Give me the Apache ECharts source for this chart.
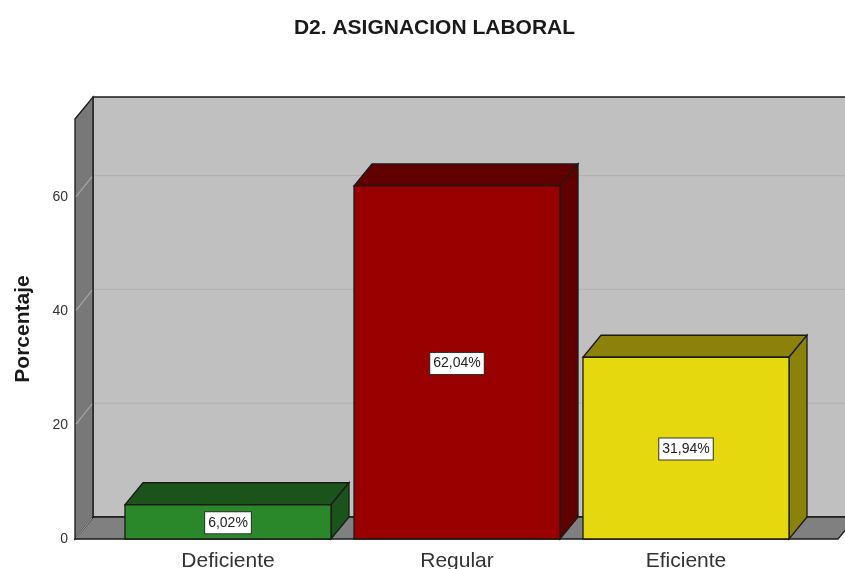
<!DOCTYPE html>
<html><head><meta charset="utf-8">
<style>html,body{margin:0;padding:0;background:#fff}#c{width:845px;height:569px}</style>
<script src="https://cdn.jsdelivr.net/npm/echarts@6/dist/echarts.min.js"></script>
</head><body><div id="c"></div>
<script>
var titleText = 'D2. ASIGNACION LABORAL';
var yAxisName = 'Porcentaje';
var categories = ['Deficiente', 'Regular', 'Eficiente'];
var percentages = [6.02, 62.04, 31.94];
var valueLabels = ['6,02%', '62,04%', '31,94%'];
var faceColors = ['#2a872a', '#990000', '#e5d80f'];
var shadeColors = ['#1b541b', '#600000', '#8c810a'];
var gridTicks = [20, 40, 60];

var DX = 18, DY = -22, LEFT = 75, BAR_W = 206, AXIS_MAX = 73.8, EDGE = '#1a1a1a';
function poly(points, fill, stroke, lw) {
  return { type: 'polygon', shape: { points: points },
    style: { fill: fill, stroke: stroke || EDGE, lineWidth: lw === undefined ? 1.3 : lw } };
}
function line(x1, y1, x2, y2, color, lw) {
  return { type: 'line', shape: { x1: x1, y1: y1, x2: x2, y2: y2 },
    style: { stroke: color, lineWidth: lw, fill: null } };
}
function renderWalls(params, api) {
  var y0 = api.coord([0, 0])[1], yT = api.coord([0, AXIS_MAX])[1];
  var R = 856, c = [];
  c.push(poly([[LEFT + DX, yT + DY], [R + 20, yT + DY], [R + 20, y0 + DY], [LEFT + DX, y0 + DY]], '#c0c0c0'));
  c.push(poly([[LEFT, y0], [LEFT + DX, y0 + DY], [R, y0 + DY], [R - DX, y0]], '#808080'));
  c.push(poly([[LEFT, yT], [LEFT + DX, yT + DY], [LEFT + DX, y0 + DY], [LEFT, y0]], '#787878'));
  gridTicks.forEach(function (t) {
    var y = api.coord([0, t])[1];
    c.push(line(LEFT + DX + 1, y + DY, R + 20, y + DY, '#b2b2b2', 1.2));
    c.push(line(LEFT + 1, y - 1, LEFT + DX - 1, y + DY + 1, '#a6a6a6', 1.2));
  });
  c.push(line(LEFT + 1, y0 - 1, LEFT + DX - 1, y0 + DY + 1, '#a6a6a6', 1.2));
  return { type: 'group', children: c };
}
function renderBar(params, api) {
  var i = params.dataIndex, p = api.coord([i, api.value(1)]), b = api.coord([i, 0]);
  var x0 = p[0] - BAR_W / 2, x1 = p[0] + BAR_W / 2, yt = p[1], yb = b[1];
  return { type: 'group', children: [
    poly([[x0, yt], [x0 + DX, yt + DY], [x1 + DX, yt + DY], [x1, yt]], shadeColors[i]),
    poly([[x1, yt], [x1 + DX, yt + DY], [x1 + DX, yb + DY], [x1, yb]], shadeColors[i]),
    poly([[x0, yt], [x1, yt], [x1, yb], [x0, yb]], faceColors[i]),
    { type: 'text', x: p[0], y: (yt + yb) / 2 + 1, z2: 10,
      style: { text: valueLabels[i], fontFamily: 'Liberation Sans', fontSize: 14, fill: '#222',
        align: 'center', verticalAlign: 'middle', backgroundColor: '#fff',
        borderColor: '#333', borderWidth: 1, padding: [4, 3, 3, 3] } }
  ] };
}
var chart = echarts.init(document.getElementById('c'), null, { renderer: 'canvas' });
chart.setOption({
  animation: false,
  backgroundColor: '#fff',
  title: { text: titleText, left: 429.5, top: 13, textAlign: 'center',
    textStyle: { fontFamily: 'Liberation Sans', fontSize: 21, fontWeight: 'bold', color: '#1a1a1a' } },
  grid: { left: 113.5, width: 687, top: 119, bottom: 30, containLabel: false, outerBoundsMode: 'none' },
  xAxis: { type: 'category', data: categories, axisLine: { show: false }, axisTick: { show: false },
    axisLabel: { fontFamily: 'Liberation Sans', fontSize: 21, color: '#333', margin: 12 }, splitLine: { show: false } },
  yAxis: { type: 'value', min: 0, max: AXIS_MAX, interval: 20, offset: 38.5,
    name: yAxisName, nameLocation: 'middle', nameGap: 41, nameRotate: 90,
    nameTextStyle: { fontFamily: 'Liberation Sans', fontSize: 21, fontWeight: 'bold', color: '#1a1a1a' },
    axisLine: { show: false }, axisTick: { show: false }, splitLine: { show: false },
    axisLabel: { fontFamily: 'Liberation Sans', fontSize: 14, color: '#333', margin: 7, padding: [5, 0, 0, 0], showMaxLabel: false } },
  series: [
    { type: 'custom', silent: true, renderItem: renderWalls, data: [[0, 0]], encode: { x: 0, y: 1 }, z: 1 },
    { type: 'custom', renderItem: renderBar, z: 2,
      data: percentages.map(function (v, i) { return [i, v]; }), encode: { x: 0, y: 1 } }
  ]
});
</script></body></html>
